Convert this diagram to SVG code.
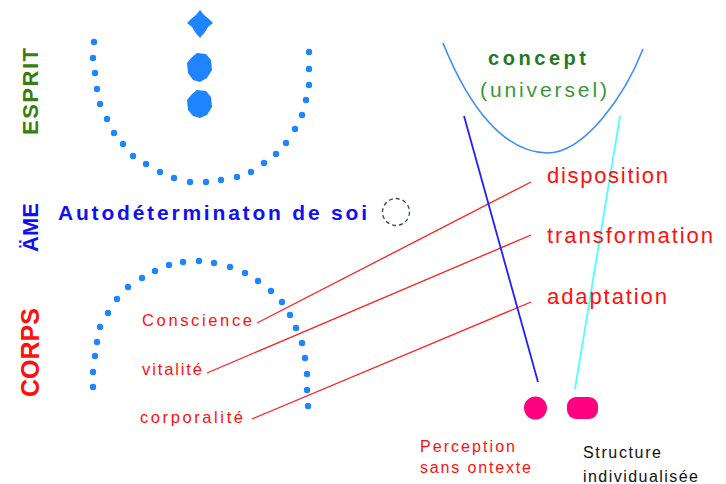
<svg xmlns="http://www.w3.org/2000/svg" width="726" height="484" viewBox="0 0 726 484">
<style>
.dot{fill:#1e84ff}
.side{font-family:"Liberation Sans",Arial,sans-serif;font-weight:bold}
.lbl{font-family:"Liberation Sans",Arial,sans-serif;fill:#ff1010}
.red{stroke:#ff2020;stroke-width:1.3;fill:none}
</style>
<rect width="726" height="484" fill="#ffffff"/>
<g id="esprit-label"><text class="side" transform="translate(38,135) rotate(-90)" font-size="22" fill="#3a7d12" textLength="87" lengthAdjust="spacing">ESPRIT</text></g>
<g id="ame-label"><text class="side" transform="translate(38,252) rotate(-90)" font-size="22" fill="#1010f0" textLength="49" lengthAdjust="spacing">ÄME</text></g>
<g id="corps-label"><text class="side" transform="translate(39,397) rotate(-90)" font-size="25" fill="#ff1010" textLength="89" lengthAdjust="spacing">CORPS</text></g>
<g id="top-arc">
<circle class="dot" cx="94" cy="42" r="3.2"/><circle class="dot" cx="93" cy="58" r="3.2"/><circle class="dot" cx="95" cy="73" r="3.2"/><circle class="dot" cx="97" cy="89" r="3.2"/><circle class="dot" cx="100" cy="104" r="3.2"/><circle class="dot" cx="107" cy="119" r="3.2"/><circle class="dot" cx="114" cy="133" r="3.2"/><circle class="dot" cx="123" cy="144" r="3.2"/><circle class="dot" cx="133" cy="156" r="3.2"/><circle class="dot" cx="146" cy="164" r="3.2"/><circle class="dot" cx="160" cy="172" r="3.2"/><circle class="dot" cx="174" cy="178" r="3.2"/><circle class="dot" cx="190" cy="182" r="3.2"/><circle class="dot" cx="206" cy="182" r="3.2"/><circle class="dot" cx="221" cy="180" r="3.2"/><circle class="dot" cx="237" cy="177" r="3.2"/><circle class="dot" cx="251" cy="172" r="3.2"/><circle class="dot" cx="264" cy="163" r="3.2"/><circle class="dot" cx="276" cy="154" r="3.2"/><circle class="dot" cx="286" cy="143" r="3.2"/><circle class="dot" cx="295" cy="129" r="3.2"/><circle class="dot" cx="302" cy="115" r="3.2"/><circle class="dot" cx="306" cy="100" r="3.2"/><circle class="dot" cx="309" cy="85" r="3.2"/><circle class="dot" cx="309" cy="69" r="3.2"/><circle class="dot" cx="309" cy="52" r="3.2"/>
</g>
<g id="diamonds" fill="#1e84ff">
<polygon points="200,10 204,15 209,19 213,23 208,27 205,32 200,38 195,32 192,27 187,23 191,19 196,15"/>
<polygon points="197,53 206,54 211,60 212,70 207,78 200,82 193,80 188,73 187,63 192,57"/>
<polygon points="197,90 206,91 211,97 212,107 207,115 200,118 193,116 188,110 187,100 192,94"/>
</g>
<g id="autodetermination"><text class="side" x="58" y="220" font-size="21" fill="#1010f0" textLength="309" lengthAdjust="spacing">Autodéterminaton de soi</text></g>
<g id="soi-circle"><circle cx="396" cy="212" r="13.5" fill="none" stroke="#334466" stroke-width="1.3" stroke-dasharray="4 3"/></g>
<g id="bottom-arc">
<circle class="dot" cx="93" cy="387" r="3.2"/><circle class="dot" cx="93" cy="372" r="3.2"/><circle class="dot" cx="95" cy="356" r="3.2"/><circle class="dot" cx="97" cy="342" r="3.2"/><circle class="dot" cx="100" cy="327" r="3.2"/><circle class="dot" cx="108" cy="313" r="3.2"/><circle class="dot" cx="117" cy="299" r="3.2"/><circle class="dot" cx="128" cy="287" r="3.2"/><circle class="dot" cx="142" cy="278" r="3.2"/><circle class="dot" cx="155" cy="271" r="3.2"/><circle class="dot" cx="169" cy="265" r="3.2"/><circle class="dot" cx="183" cy="262" r="3.2"/><circle class="dot" cx="199" cy="261" r="3.2"/><circle class="dot" cx="214" cy="263" r="3.2"/><circle class="dot" cx="230" cy="267" r="3.2"/><circle class="dot" cx="245" cy="273" r="3.2"/><circle class="dot" cx="258" cy="281" r="3.2"/><circle class="dot" cx="271" cy="291" r="3.2"/><circle class="dot" cx="282" cy="302" r="3.2"/><circle class="dot" cx="290" cy="315" r="3.2"/><circle class="dot" cx="296" cy="328" r="3.2"/><circle class="dot" cx="302" cy="343" r="3.2"/><circle class="dot" cx="305" cy="358" r="3.2"/><circle class="dot" cx="307" cy="374" r="3.2"/><circle class="dot" cx="307" cy="390" r="3.2"/><circle class="dot" cx="308" cy="406" r="3.2"/>
</g>
<g id="concept">
<path d="M443,43 C470,110 505,152 547,153 C585,153 625,95 643,49" fill="none" stroke="#3a8cff" stroke-width="1.6"/>
<text class="side" x="488" y="65" font-size="20" fill="#1f7a1f" textLength="98" lengthAdjust="spacing">concept</text>
<text x="480" y="97" font-family="Liberation Sans,Arial,sans-serif" font-size="21" fill="#3a963a" textLength="127" lengthAdjust="spacing">(universel)</text>
</g>
<g id="connectors">
<line class="red" x1="257" y1="323" x2="531" y2="182"/>
<line class="red" x1="207" y1="373" x2="531" y2="235"/>
<line class="red" x1="252" y1="419" x2="531" y2="302"/>
<line x1="464" y1="116" x2="538" y2="382" stroke="#2020ff" stroke-width="1.8"/>
<line x1="620" y1="116" x2="575" y2="389" stroke="#50ffff" stroke-width="1.8"/>
</g>
<g id="conscience"><text class="lbl" x="142" y="326" font-size="16.5" textLength="110" lengthAdjust="spacing">Conscience</text></g>
<g id="vitalite"><text class="lbl" x="142" y="375" font-size="16.5" textLength="60" lengthAdjust="spacing">vitalité</text></g>
<g id="corporalite"><text class="lbl" x="140" y="423" font-size="16.5" textLength="103" lengthAdjust="spacing">corporalité</text></g>
<g id="disposition"><text class="lbl" x="547" y="183" font-size="22" textLength="121" lengthAdjust="spacing">disposition</text></g>
<g id="transformation"><text class="lbl" x="547" y="243" font-size="22" textLength="166" lengthAdjust="spacing">transformation</text></g>
<g id="adaptation"><text class="lbl" x="547" y="304" font-size="22" textLength="120" lengthAdjust="spacing">adaptation</text></g>
<g id="perception">
<circle cx="535.5" cy="408" r="11.5" fill="#ff0080"/>
<text class="lbl" x="420" y="452" font-size="16" textLength="95" lengthAdjust="spacing">Perception</text>
<text class="lbl" x="420" y="473" font-size="16" textLength="111" lengthAdjust="spacing">sans ontexte</text>
</g>
<g id="structure">
<rect x="567" y="397" width="31" height="22" rx="9" fill="#ff0080"/>
<text x="583" y="458" font-family="Liberation Sans,Arial,sans-serif" font-size="16" fill="#111" textLength="78" lengthAdjust="spacing">Structure</text>
<text x="583" y="482" font-family="Liberation Sans,Arial,sans-serif" font-size="16" fill="#111" textLength="115" lengthAdjust="spacing">individualisée</text>
</g>
</svg>
